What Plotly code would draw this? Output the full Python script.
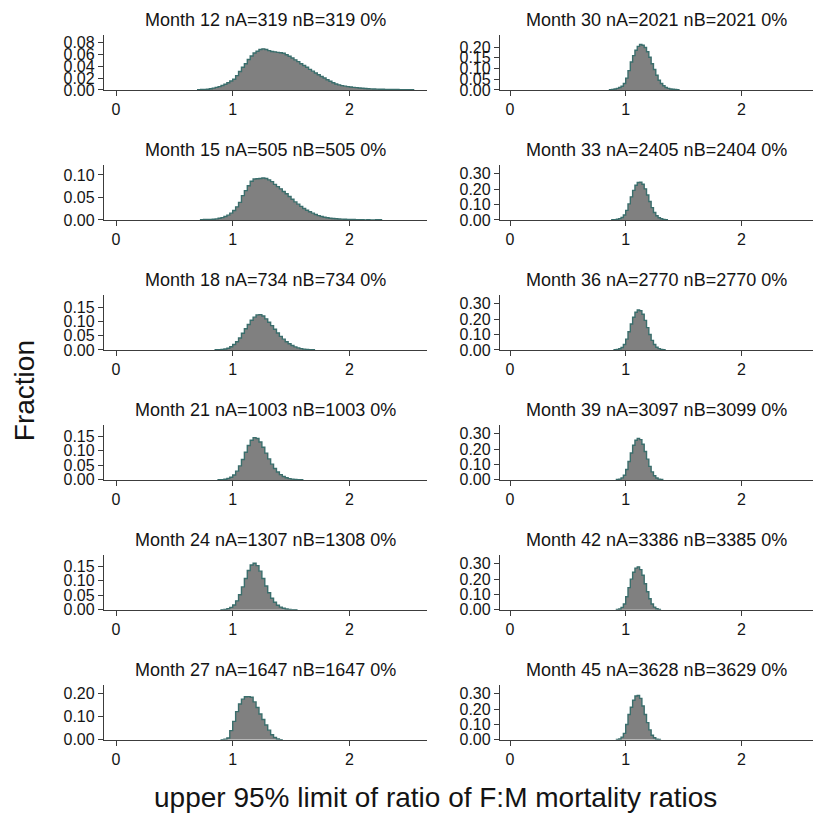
import plotly.graph_objects as go

# ---------------- data ----------------
months_left = [12, 15, 18, 21, 24, 27]
months_right = [30, 33, 36, 39, 42, 45]
nA = {12: 319, 15: 505, 18: 734, 21: 1003, 24: 1307, 27: 1647,
      30: 2021, 33: 2405, 36: 2770, 39: 3097, 42: 3386, 45: 3628}
nB = {12: 319, 15: 505, 18: 734, 21: 1003, 24: 1308, 27: 1647,
      30: 2021, 33: 2404, 36: 2770, 39: 3099, 42: 3385, 45: 3629}
pct = "0%"

bw_left = 0.025
bw_right = 0.02

start_m12 = 0.70
frac_m12 = [0.0005, 0.0007, 0.0009, 0.0012, 0.0020, 0.0030, 0.0042, 0.0055, 0.0075, 0.0095,
            0.0120, 0.0150, 0.0180, 0.0240, 0.0310, 0.0380, 0.0440, 0.0510, 0.0570, 0.0620,
            0.0650, 0.0680, 0.0690, 0.0680, 0.0660, 0.0645, 0.0640, 0.0630, 0.0625, 0.0615,
            0.0590, 0.0565, 0.0535, 0.0505, 0.0475, 0.0440, 0.0410, 0.0380, 0.0345, 0.0315,
            0.0285, 0.0255, 0.0225, 0.0200, 0.0170, 0.0145, 0.0120, 0.0100, 0.0085, 0.0072,
            0.0063, 0.0055, 0.0048, 0.0043, 0.0038, 0.0032, 0.0028, 0.0024, 0.0020, 0.0017,
            0.0015, 0.0013, 0.0011, 0.0010, 0.0009, 0.0008, 0.0007, 0.0006, 0.0006, 0.0005,
            0.0005, 0.0004, 0.0004, 0.0003]

start_m15 = 0.725
frac_m15 = [0.0005, 0.0008, 0.0010, 0.0012, 0.0015, 0.0022, 0.0035, 0.0050, 0.0075, 0.0105,
            0.0150, 0.0210, 0.0290, 0.0390, 0.0540, 0.0650, 0.0760, 0.0860, 0.0910, 0.0915,
            0.0920, 0.0930, 0.0920, 0.0890, 0.0850, 0.0790, 0.0740, 0.0690, 0.0630, 0.0580,
            0.0520, 0.0460, 0.0400, 0.0350, 0.0300, 0.0255, 0.0215, 0.0180, 0.0150, 0.0120,
            0.0095, 0.0075, 0.0060, 0.0048, 0.0038, 0.0030, 0.0025, 0.0021, 0.0018, 0.0015,
            0.0012, 0.0010, 0.0008, 0.0006, 0.0005, 0.0004, 0.0000, 0.0006, 0.0000, 0.0000,
            0.0006, 0.0006]

start_m18 = 0.85
frac_m18 = [0.0005, 0.0010, 0.0015, 0.0030, 0.0060, 0.0110, 0.0190, 0.0290, 0.0420, 0.0590,
            0.0750, 0.0900, 0.1050, 0.1160, 0.1240, 0.1250, 0.1200, 0.1100, 0.0980, 0.0860,
            0.0730, 0.0600, 0.0480, 0.0380, 0.0290, 0.0215, 0.0155, 0.0105, 0.0070, 0.0045,
            0.0028, 0.0016, 0.0009, 0.0005]

start_m21 = 0.875
frac_m21 = [0.0005, 0.0010, 0.0022, 0.0045, 0.0090, 0.0170, 0.0300, 0.0480, 0.0700, 0.0950,
            0.1180, 0.1360, 0.1450, 0.1420, 0.1300, 0.1120, 0.0920, 0.0720, 0.0540, 0.0390,
            0.0270, 0.0180, 0.0115, 0.0072, 0.0044, 0.0026, 0.0015, 0.0008, 0.0004]

start_m24 = 0.90
frac_m24 = [0.0008, 0.0018, 0.0040, 0.0085, 0.0170, 0.0310, 0.0520, 0.0790, 0.1080, 0.1350,
            0.1540, 0.1600, 0.1520, 0.1330, 0.1080, 0.0820, 0.0590, 0.0400, 0.0260, 0.0160,
            0.0095, 0.0055, 0.0030, 0.0016, 0.0008, 0.0004]

start_m27 = 0.90
frac_m27 = [0.0010, 0.0030, 0.0080, 0.0400, 0.0800, 0.1220, 0.1550, 0.1760, 0.1860, 0.1870,
            0.1840, 0.1640, 0.1400, 0.1120, 0.0880, 0.0640, 0.0420, 0.0220, 0.0100, 0.0040,
            0.0012]

start_m30 = 0.86
frac_m30 = [0.001, 0.002, 0.004, 0.007, 0.011, 0.017, 0.030, 0.055, 0.090, 0.130,
            0.160, 0.185, 0.203, 0.212, 0.208, 0.198, 0.178, 0.152, 0.122, 0.095,
            0.068, 0.045, 0.030, 0.019, 0.011, 0.007, 0.004, 0.003, 0.002, 0.001]

start_m33 = 0.88
frac_m33 = [0.001, 0.002, 0.004, 0.008, 0.016, 0.032, 0.062, 0.104, 0.150, 0.192,
            0.225, 0.243, 0.245, 0.232, 0.202, 0.162, 0.120, 0.080, 0.048, 0.027,
            0.014, 0.007, 0.003, 0.001]

start_m36 = 0.90
frac_m36 = [0.001, 0.003, 0.007, 0.016, 0.035, 0.070, 0.118, 0.168, 0.212, 0.245,
            0.260, 0.255, 0.232, 0.192, 0.145, 0.100, 0.062, 0.035, 0.017, 0.008,
            0.003, 0.001]

start_m39 = 0.92
frac_m39 = [0.002, 0.005, 0.013, 0.030, 0.068, 0.120, 0.175, 0.225, 0.258, 0.270,
            0.262, 0.232, 0.185, 0.135, 0.088, 0.052, 0.027, 0.012, 0.005, 0.002]

start_m42 = 0.92
frac_m42 = [0.002, 0.006, 0.016, 0.038, 0.085, 0.145, 0.200, 0.245, 0.272, 0.280,
            0.262, 0.225, 0.170, 0.118, 0.072, 0.038, 0.018, 0.007, 0.003]

start_m45 = 0.92
frac_m45 = [0.002, 0.006, 0.018, 0.042, 0.100, 0.165, 0.212, 0.258, 0.285, 0.289,
            0.270, 0.220, 0.165, 0.112, 0.065, 0.030, 0.014, 0.005, 0.002]

hist_left = [(start_m12, frac_m12), (start_m15, frac_m15), (start_m18, frac_m18),
             (start_m21, frac_m21), (start_m24, frac_m24), (start_m27, frac_m27)]
hist_right = [(start_m30, frac_m30), (start_m33, frac_m33), (start_m36, frac_m36),
              (start_m39, frac_m39), (start_m42, frac_m42), (start_m45, frac_m45)]

x_tick_vals = [0, 1, 2]
y_ticks_left = [[0, 0.02, 0.04, 0.06, 0.08], [0, 0.05, 0.10], [0, 0.05, 0.10, 0.15],
                [0, 0.05, 0.10, 0.15], [0, 0.05, 0.10, 0.15], [0, 0.10, 0.20]]
y_ticks_right = [[0, 0.05, 0.10, 0.15, 0.20], [0, 0.10, 0.20, 0.30], [0, 0.10, 0.20, 0.30],
                 [0, 0.10, 0.20, 0.30], [0, 0.10, 0.20, 0.30], [0, 0.10, 0.20, 0.30]]
y_max_left = [0.093, 0.123, 0.196, 0.19, 0.19, 0.239]
y_max_right = [0.258, 0.36, 0.36, 0.36, 0.36, 0.36]

x_title = "upper 95% limit of ratio of F:M mortality ratios"
y_title = "Fraction"

# ---------------- layout geometry ----------------
W, H = 813, 819
FILL = "#808080"
EDGE = "#3a6e6c"
AXC = "#3c3c3c"
TXT = "#141414"
FONT = "Liberation Sans, Arial, sans-serif"

col_px = {0: (104, 427), 1: (500, 813)}
col_range = {0: [-0.103, 2.665], 1: [-0.0864, 2.619]}
row_top0, row_pitch, row_h = 34, 131.6, 56

fig = go.Figure()
annotations = []
idx = 0
for col, months, hists, yticks, ymaxes in [
        (0, months_left, hist_left, y_ticks_left, y_max_left),
        (1, months_right, hist_right, y_ticks_right, y_max_right)]:
    bw = bw_left if col == 0 else bw_right
    for r in range(6):
        idx += 1
        xa = "x" if idx == 1 else f"x{idx}"
        ya = "y" if idx == 1 else f"y{idx}"
        start, vals = hists[r]
        n = len(vals)
        edges = [start + bw * i for i in range(n + 1)]
        # histogram bars drawn as a filled step outline (bin edges -> fractions)
        sx = [edges[0]] + edges[:n] + [edges[n], edges[n]]
        sy = [0] + list(vals) + [vals[-1], 0]
        fig.add_trace(go.Scatter(x=sx, y=sy, mode="lines", fill="tozeroy", fillcolor=FILL,
                                 line=dict(color=EDGE, width=1.4, shape="hv"),
                                 xaxis=xa, yaxis=ya, showlegend=False, hoverinfo="skip"))
        top = row_top0 + row_pitch * r
        bot = top + row_h
        x0, x1 = col_px[col]
        axis_common = dict(showline=True, linecolor=AXC, linewidth=1.3, ticks="outside",
                           ticklen=5, tickcolor=AXC, tickwidth=1.2, showgrid=False, zeroline=False,
                           tickfont=dict(family=FONT, size=16, color=TXT), fixedrange=True)
        fig.layout[("xaxis" if idx == 1 else f"xaxis{idx}")] = dict(
            domain=[x0 / W, min(x1 / W, 1.0)], range=col_range[col], anchor=ya,
            tickvals=x_tick_vals, ticktext=[str(v) for v in x_tick_vals], **axis_common)
        fig.layout[("yaxis" if idx == 1 else f"yaxis{idx}")] = dict(
            domain=[1 - bot / H, 1 - top / H], range=[0, ymaxes[r]], anchor=xa,
            tickvals=yticks[r], ticktext=[f"{v:.2f}" for v in yticks[r]], **axis_common)
        m = months[r]
        annotations.append(dict(text=f"Month {m} nA={nA[m]} nB={nB[m]} {pct}",
                                x=(x0 + x1) / 2 / W, y=1 - (top - 15) / H, xref="paper", yref="paper",
                                xanchor="center", yanchor="middle", showarrow=False,
                                font=dict(family=FONT, size=18, color=TXT)))

annotations.append(dict(text=y_title, x=24 / W, y=1 - 395 / H, xref="paper", yref="paper",
                        textangle=-90, xanchor="center", yanchor="middle", showarrow=False,
                        font=dict(family=FONT, size=28, color=TXT)))
annotations.append(dict(text=x_title, x=436 / W, y=1 - 800 / H, xref="paper", yref="paper",
                        xanchor="center", yanchor="top", yshift=11, showarrow=False,
                        font=dict(family=FONT, size=28, color=TXT)))

fig.update_layout(width=W, height=H, margin=dict(l=0, r=0, t=0, b=0, pad=0),
                  paper_bgcolor="white", plot_bgcolor="white",
                  annotations=annotations, showlegend=False)

fig.write_html("out.html", config={"displayModeBar": False})
